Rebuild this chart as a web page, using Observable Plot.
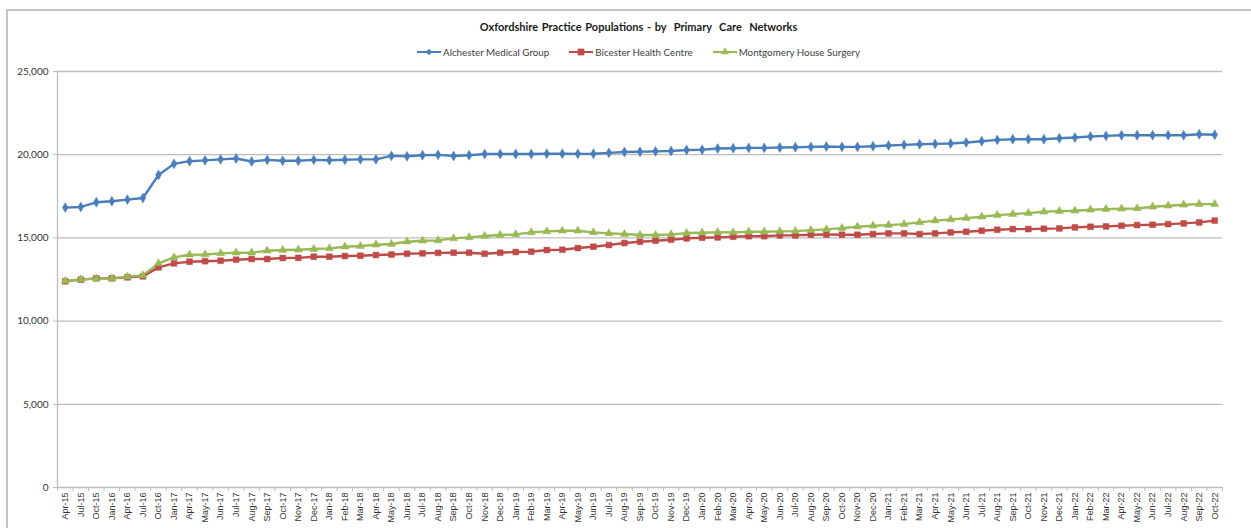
<!DOCTYPE html>
<html>
<head>
<meta charset="utf-8">
<script src="https://cdn.jsdelivr.net/npm/d3@7"></script>
<script src="https://cdn.jsdelivr.net/npm/@observablehq/plot@0.6"></script>
<style>
  html, body { margin: 0; padding: 0; background: #fff; }
  body { width: 1251px; height: 528px; overflow: hidden; position: relative; font-family: Lato, "Open Sans", sans-serif; }
  #frame { position: absolute; z-index: 5; pointer-events: none; top: 9px; left: 6px; right: -4px; bottom: -4px; border-top: 2px solid #c4c4c4; border-left: 2px solid #c4c4c4; }
  #header { position: relative; height: 60px; width: 1251px; }
  #title { position: absolute; left: 26px; right: 0; top: 20px; text-align: center; font-size: 11px; font-weight: bold; color: #1a1a1a; word-spacing: 1px; }
  #legend { position: absolute; left: 26px; right: 0; top: 46px; font-size: 9.8px; color: #404040; display: flex; justify-content: center; gap: 20px; }
  #legend span.item { display: inline-flex; align-items: center; gap: 2px; }
  #chart { position: relative; }
</style>
</head>
<body>
<div id="frame"></div>
<div id="header">
  <div id="title">Oxfordshire Practice Populations - by&nbsp; Primary&nbsp; Care&nbsp; Networks</div>
  <div id="legend"></div>
</div>
<div id="chart"></div>
<script>
const months = ["Apr-15","Jul-15","Oct-15","Jan-16","Apr-16","Jul-16","Oct-16","Jan-17",
  "Apr-17","May-17","Jun-17","Jul-17","Aug-17","Sep-17","Oct-17","Nov-17","Dec-17",
  "Jan-18","Feb-18","Mar-18","Apr-18","May-18","Jun-18","Jul-18","Aug-18","Sep-18","Oct-18","Nov-18","Dec-18",
  "Jan-19","Feb-19","Mar-19","Apr-19","May-19","Jun-19","Jul-19","Aug-19","Sep-19","Oct-19","Nov-19","Dec-19",
  "Jan-20","Feb-20","Mar-20","Apr-20","May-20","Jun-20","Jul-20","Aug-20","Sep-20","Oct-20","Nov-20","Dec-20",
  "Jan-21","Feb-21","Mar-21","Apr-21","May-21","Jun-21","Jul-21","Aug-21","Sep-21","Oct-21","Nov-21","Dec-21",
  "Jan-22","Feb-22","Mar-22","Apr-22","May-22","Jun-22","Jul-22","Aug-22","Sep-22","Oct-22"];

const seriesNames = ["Alchester Medical Group","Bicester Health Centre","Montgomery House Surgery"];

const alchester = [16820,16860,17140,17200,17300,17400,18780,19450,
  19610,19660,19720,19770,19590,19690,19640,19640,19690,
  19670,19700,19720,19720,19930,19900,19970,19990,19920,19970,20040,20040,
  20040,20040,20060,20060,20050,20060,20110,20160,20180,20200,20220,20280,
  20300,20370,20390,20410,20410,20430,20450,20470,20490,20470,20470,20510,
  20550,20590,20630,20650,20670,20730,20810,20890,20930,20930,20930,20990,
  21030,21090,21130,21170,21170,21170,21170,21170,21230,21200];

const bicester = [12390,12490,12570,12570,12630,12690,13230,13470,
  13570,13600,13630,13690,13730,13730,13790,13800,13870,
  13870,13910,13930,13970,14000,14050,14070,14100,14110,14110,14050,14110,
  14150,14170,14270,14290,14390,14470,14570,14690,14770,14830,14890,14970,
  15010,15030,15070,15100,15100,15150,15150,15190,15200,15190,15190,15230,
  15270,15270,15230,15270,15330,15370,15430,15490,15530,15530,15550,15570,
  15630,15670,15690,15730,15770,15790,15830,15870,15930,16040];

const montgomery = [12420,12500,12550,12570,12670,12750,13470,13830,
  13990,14000,14070,14110,14110,14230,14270,14290,14330,
  14370,14470,14510,14590,14630,14770,14830,14850,14970,15030,15110,15170,
  15210,15330,15390,15430,15430,15330,15270,15230,15170,15170,15210,15290,
  15310,15350,15330,15370,15370,15390,15410,15470,15510,15590,15670,15730,
  15770,15830,15930,16040,16110,16190,16270,16370,16430,16490,16570,16610,
  16630,16690,16730,16750,16770,16870,16930,16990,17030,17030];

const yTicks = [0, 5000, 10000, 15000, 20000, 25000];
const colors = ["#4A7EBB", "#BE4B48", "#98B954"];
const symbols = ["diamond", "square", "triangle"];

const valuesBySeries = [alchester, bicester, montgomery];
const data = seriesNames.flatMap((s, k) => months.map((m, i) => ({series: s, month: m, value: valuesBySeries[k][i]})));

const W = 1251, H = 468, mL = 57, mR = 29;
const step = (W - mL - mR) / months.length;

const axisFont = "'Liberation Sans Narrow', 'Arial Narrow', 'Liberation Sans', sans-serif";

const chart = Plot.plot({
  width: W, height: H,
  marginTop: 11, marginBottom: 41, marginLeft: mL, marginRight: mR,
  style: {fontFamily: axisFont, background: "white", overflow: "visible"},
  x: {type: "point", domain: months, padding: 0.5, label: null},
  y: {domain: [0, 25000], label: null},
  color: {domain: seriesNames, range: colors},
  symbol: {domain: seriesNames, range: symbols},
  marks: [
    Plot.gridY(yTicks.filter(d => d > 0), {stroke: "#bdbdbd", strokeOpacity: 1, strokeWidth: 1.3}),
    Plot.ruleY([0], {stroke: "#bdbdbd", strokeWidth: 1.3}),
    Plot.frame({anchor: "left", stroke: "#bdbdbd", strokeWidth: 1.3}),
    Plot.axisY(yTicks, {tickSize: 4, tickPadding: 5, stroke: "#bdbdbd", tickFormat: d3.format(","), fontSize: 10, fill: "#333", fontFamily: "Lato, sans-serif"}),
    Plot.axisX({tickSize: 4, dx: -step / 2, tickFormat: () => "", stroke: "#bdbdbd"}),
    Plot.axisX([months[months.length - 1]], {tickSize: 4, dx: step / 2, tickFormat: () => "", stroke: "#bdbdbd"}),
    Plot.axisX({tickSize: 0, tickPadding: 5, tickRotate: -90, fontSize: 9, fill: "#333"}),
    Plot.line(data, {x: "month", y: "value", stroke: "series", strokeWidth: 2.4}),
    Plot.dot(data, {x: "month", y: "value", symbol: "series", fill: "series", stroke: "series", strokeWidth: 0.5, r: d => d.series === seriesNames[1] ? 3.6 : 3})
  ]
});
document.getElementById("chart").appendChild(chart);

// legend
const legend = d3.select("#legend");
seriesNames.forEach((s, k) => {
  const item = legend.append("span").attr("class", "item");
  const svg = item.append("svg").attr("width", 24).attr("height", 10);
  svg.append("line").attr("x1", 0).attr("x2", 24).attr("y1", 5).attr("y2", 5).attr("stroke", colors[k]).attr("stroke-width", 2);
  const sym = [d3.symbolDiamond2, d3.symbolSquare, d3.symbolTriangle][k];
  svg.append("path").attr("transform", "translate(12,5)").attr("d", d3.symbol(sym, k === 1 ? 45 : 28)()).attr("fill", colors[k]);
  item.append("span").text(s);
});
</script>
</body>
</html>
